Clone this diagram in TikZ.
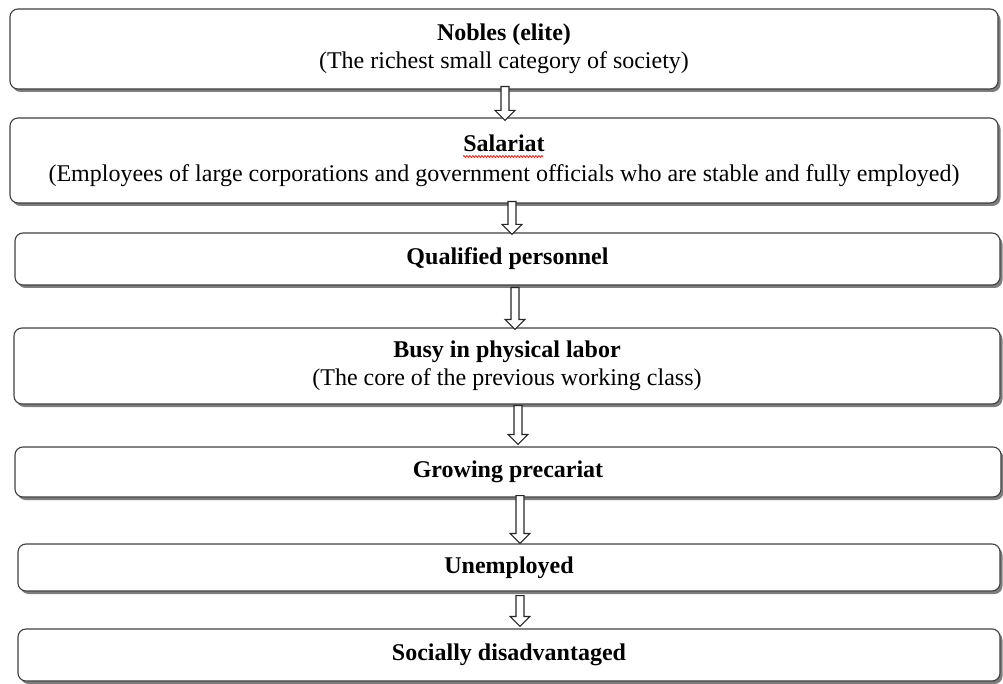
\documentclass[tikz,border=0pt]{standalone}
\usepackage{fontspec}
\setmainfont{Liberation Serif}
\usetikzlibrary{calc,shadows,decorations.pathmorphing}
\begin{document}
\begin{tikzpicture}[x=1pt,y=-1pt,
  box/.style={draw=black!75, line width=1.1pt, rounded corners=8pt, fill=white,
    inner sep=0pt, align=center, font=\fontsize{24}{28}\selectfont,
    drop shadow={shadow xshift=2.5pt, shadow yshift=-3pt, fill=black!60, opacity=0.85}},
  darrow/.style={draw=black!85, line width=1.1pt, fill=white, line join=miter},
  blockarrow/.style={to path={
    let \p1=(\tikztostart), \p2=(\tikztotarget) in
    (\x1-4pt,\y1) -- (\x1+4pt,\y1) -- (\x1+4pt,\y2+10pt) -- (\x1+10pt,\y2+10pt)
    -- (\x1,\y2) -- (\x1-10pt,\y2+10pt) -- (\x1-4pt,\y2+10pt) -- cycle}},
  squiggle/.style={draw=red, line width=0.7pt, decorate,
    decoration={snake, amplitude=1pt, segment length=3pt}}
  ]
\useasboundingbox (0,0) rectangle (1003,684);

\node[box, minimum width=988pt, minimum height=80pt] (b1) at (504,49)
  {\textbf{Nobles (elite)}\\(The richest small category of society)};
\node[box, minimum width=988pt, minimum height=85pt] (b2) at (504,160.5)
  {\textbf{Salariat}\\[2pt](Employees of large corporations and government officials who are stable and fully employed)};
\node[box, minimum width=985pt, minimum height=52pt] (b3) at (507.5,259)
  {\textbf{Qualified personnel}};
\node[box, minimum width=986pt, minimum height=76pt] (b4) at (507,366)
  {\textbf{Busy in physical labor}\\(The core of the previous working class)};
\node[box, minimum width=986pt, minimum height=50pt] (b5) at (508,472)
  {\textbf{Growing precariat}};
\node[box, minimum width=982pt, minimum height=47pt] (b6) at (509,567.5)
  {\textbf{Unemployed}};
\node[box, minimum width=982pt, minimum height=52pt] (b7) at (509,655)
  {\textbf{Socially disadvantaged}};

\draw[darrow] ([xshift=1pt,yshift=3pt]b1.south) to[blockarrow] ([yshift=-3pt]b2.north);
\draw[darrow] ([xshift=8pt,yshift=2pt]b2.south) to[blockarrow] ([yshift=-2pt]b3.north);
\draw[darrow] ([xshift=7.5pt,yshift=-2pt]b3.south) to[blockarrow] ([yshift=-2pt]b4.north);
\draw[darrow] ([xshift=11pt,yshift=-1pt]b4.south) to[blockarrow] ([yshift=2pt]b5.north);
\draw[darrow] ([xshift=12pt,yshift=2pt]b5.south) to[blockarrow] ([yshift=0pt]b6.north);
\draw[darrow] ([xshift=11pt,yshift=-4pt]b6.south) to[blockarrow] ([yshift=2pt]b7.north);

\draw[squiggle] ($(b2.north)+(-41,39)$) -- ($(b2.north)+(39,39)$);
\end{tikzpicture}
\end{document}
